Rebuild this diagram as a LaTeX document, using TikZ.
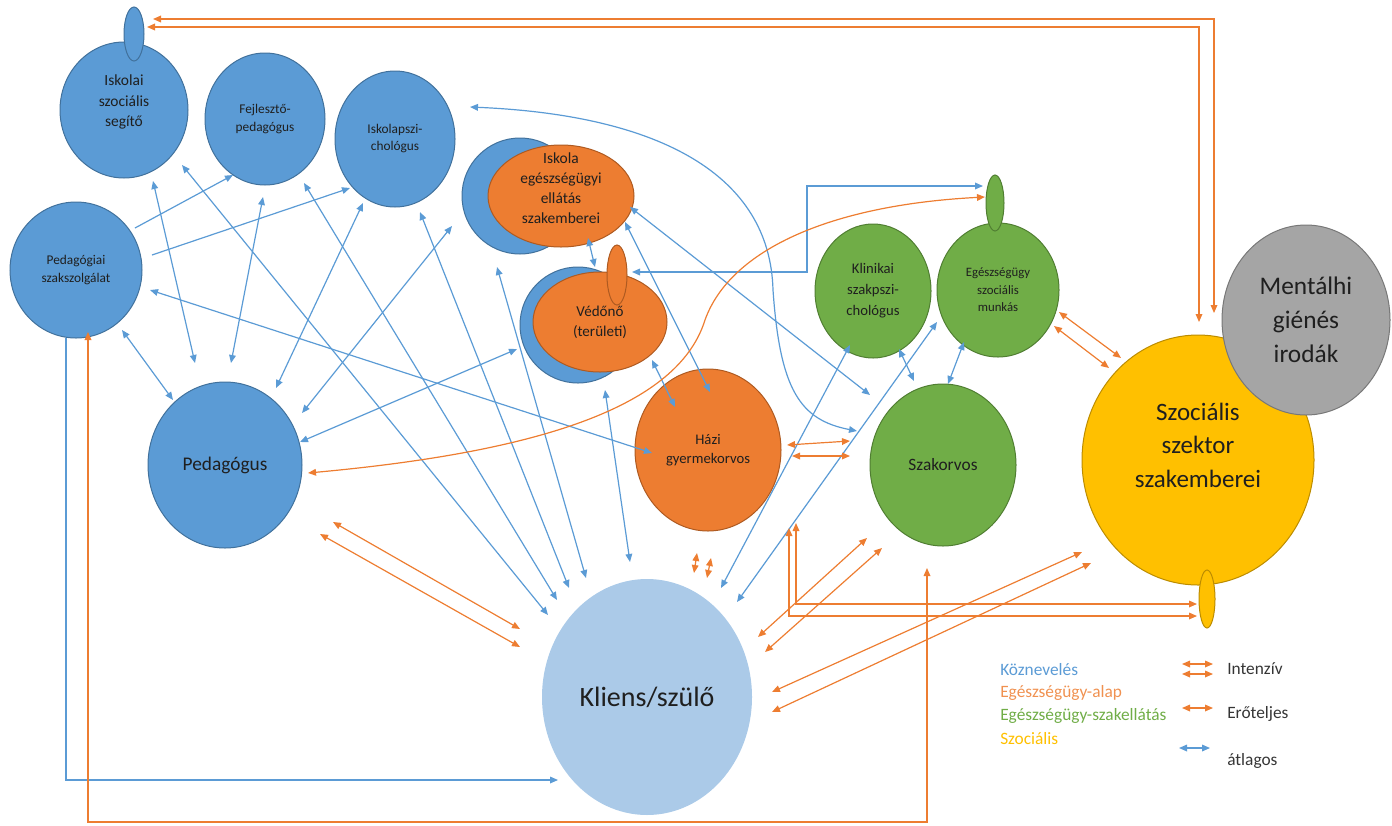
\documentclass[tikz,border=0pt]{standalone}
\usepackage{fontspec}
\setmainfont{Carlito}
\usetikzlibrary{arrows.meta,shapes.geometric,calc}
\definecolor{cBlue}{HTML}{5B9BD5}
\definecolor{cBlueD}{HTML}{41719C}
\definecolor{cOr}{HTML}{ED7D31}
\definecolor{cOrD}{HTML}{AE5A21}
\definecolor{cGr}{HTML}{70AD47}
\definecolor{cGrD}{HTML}{507E32}
\definecolor{cYe}{HTML}{FFC000}
\definecolor{cYeD}{HTML}{BC8C00}
\definecolor{cGy}{HTML}{A5A5A5}
\definecolor{cGyD}{HTML}{787878}
\definecolor{cLb}{HTML}{ABCAE8}
\definecolor{cTxt}{HTML}{1F1F1F}
\begin{document}
\begin{tikzpicture}[x=0.75pt,y=-0.75pt,
  >={Triangle[length=6pt,width=5pt]},
  shp/.style={ellipse, inner sep=0pt, line width=0.75pt, text=cTxt, align=center},
  bluen/.style={shp, fill=cBlue, draw=cBlueD},
  orn/.style={shp, fill=cOr, draw=cOrD},
  grn/.style={shp, fill=cGr, draw=cGrD},
  yen/.style={shp, fill=cYe, draw=cYeD},
  gyn/.style={shp, fill=cGy, draw=cGyD},
  bl/.style={draw=cBlue, line width=0.9pt},
  orl/.style={draw=cOr, line width=0.9pt},
  lgl/.style={anchor=west, inner sep=0pt, font=\fontsize{13}{15}\selectfont},
]
\useasboundingbox (0,0) rectangle (1392,825);

% ---------- nodes ----------
\node[bluen, minimum width=96pt, minimum height=102pt,
  label={[yshift=6pt,font=\fontsize{11.6}{15.4}\selectfont,text=cTxt,align=center]center:Iskolai\\szociális\\segítő}] (iss) at (124,110) {};
\node[bluen, minimum width=15pt, minimum height=40.5pt] (issTab) at (134,34) {};
\node[bluen, minimum width=90pt, minimum height=99pt, font=\fontsize{10}{13.5}\selectfont] (fejl) at (265,119) {Fejlesztő-\\pedagógus};
\node[bluen, minimum width=90pt, minimum height=102pt, font=\fontsize{10}{12.75}\selectfont] (ipsz) at (395,139) {Iskolapszi-\\chológus};
\node[bluen, minimum width=99pt, minimum height=102pt, font=\fontsize{10}{13.5}\selectfont] (pszk) at (76,270) {Pedagógiai\\szakszolgálat};
\node[bluen, minimum width=115.5pt, minimum height=124.5pt, font=\fontsize{14.5}{17}\selectfont] (ped) at (225,465) {Pedagógus};
\node[bluen, minimum width=87pt, minimum height=87pt] (ieB) at (520,196) {};
\node[orn, minimum width=109.5pt, minimum height=76.5pt,
  label={[yshift=6pt,font=\fontsize{11.6}{15}\selectfont,text=cTxt,align=center]center:Iskola\\egészségügyi\\ellátás\\szakemberei}] (ie) at (561,196) {};
\node[bluen, minimum width=87pt, minimum height=87pt] (vedB) at (578,325) {};
\node[orn, minimum width=100.5pt, minimum height=75pt, font=\fontsize{11.3}{15}\selectfont] (ved) at (600,322) {Védőnő\\(területi)};
\node[orn, minimum width=15pt, minimum height=45pt] (vedTab) at (617,275) {};
\node[orn, minimum width=109.5pt, minimum height=121.5pt, font=\fontsize{11}{14.3}\selectfont] (hazi) at (708,450) {Házi\\gyermekorvos};
\node[grn, minimum width=87pt, minimum height=100.5pt, font=\fontsize{11}{15.75}\selectfont] (klin) at (873,291) {Klinikai\\szakpszi-\\chológus};
\node[grn, minimum width=91.5pt, minimum height=100.5pt, font=\fontsize{9.6}{13}\selectfont] (eusz) at (998,290) {Egészségügy\\szociális\\munkás};
\node[grn, minimum width=13.5pt, minimum height=42pt] (euszTab) at (995,203) {};
\node[grn, minimum width=109.5pt, minimum height=121.5pt, font=\fontsize{13}{16}\selectfont] (szakorv) at (943,465) {Szakorvos};
\node[yen, minimum width=174pt, minimum height=187.5pt,
  label={[yshift=11pt,font=\fontsize{18.75}{25}\selectfont,text=cTxt,align=center]center:Szociális\\szektor\\szakemberei}] (szoc) at (1198,460) {};
\node[yen, minimum width=12pt, minimum height=43.5pt] (szocTab) at (1207,599) {};
\node[gyn, minimum width=126pt, minimum height=142.5pt, font=\fontsize{19}{25.5}\selectfont] (ment) at (1306,320) {Mentálhi\\giénés\\irodák};
\node[shp, fill=cLb, minimum width=157.5pt, minimum height=177pt, font=\fontsize{21}{25}\selectfont] (kliens) at (647,697) {Kliens/szülő};

% ---------- blue connectors ----------
\draw[bl,->] ($(pszk)+(59,-42)$) -- ($(fejl)+(-32,56)$);
\draw[bl,->] ($(pszk)+(76,-15)$) -- ($(ipsz)+(-45,49)$);
\draw[bl,<->] ($(iss)+(29,71)$) -- ($(ped)+(-30,-102)$);
\draw[bl,<->] ($(iss)+(58,55)$) -- ($(kliens)+(-99,-82)$);
\draw[bl,<->] ($(fejl)+(-2,78)$) -- ($(ped)+(6,-102)$);
\draw[bl,<->] ($(fejl)+(39,64)$) -- ($(kliens)+(-90,-97)$);
\draw[bl,<->] ($(ipsz)+(-32,64)$) -- ($(ped)+(51,-77)$);
\draw[bl,<->] ($(ipsz)+(25,73)$) -- ($(kliens)+(-78,-109)$);
\draw[bl,<->] ($(ieB)+(-68,30)$) -- ($(ped)+(77,-52)$);
\draw[bl,<->] ($(ieB)+(-23,71)$) -- ($(kliens)+(-61,-119)$);
\draw[bl,<->] ($(vedB)+(-61,24)$) -- ($(ped)+(75,-23)$);
\draw[bl,<->] ($(pszk)+(46,60)$) -- ($(ped)+(-52,-65)$);
\draw[bl,<->] ($(pszk)+(74,20)$) -- ($(hazi)+(-56,3)$);
\draw[bl,->] ($(pszk)+(-10,68)$) |- ($(kliens)+(-89,83)$);
\draw[bl,<->] ($(ipsz)+(75,-32)$) .. controls (660,115) and (770,175) .. (773,290)
   .. controls (780,390) and (800,420) .. ($(szakorv)+(-86,-34)$);
\draw[bl,<->] ($(ie)+(69,11)$) -- ($(szakorv)+(-73,-70)$);
\draw[bl,<->] ($(ie)+(64,26)$) -- ($(hazi)+(2,-58)$);
\draw[bl,<->] ($(ie)+(27,42)$) -- ($(ved)+(-5,-55)$);
\draw[bl,<->] ($(ved)+(52,38)$) -- ($(hazi)+(-33,-43)$);
\draw[bl,<->] ($(ved)+(5,68)$) -- ($(kliens)+(-17,-135)$);
\draw[bl,<->] ($(vedTab)+(15,-3)$) -- ++(175,0) |- ($(euszTab)+(-12,-17)$);
\draw[bl,<->] ($(klin)+(-23,54)$) -- ($(kliens)+(74,-109)$);
\draw[bl,<->] ($(eusz)+(-61,32)$) -- ($(kliens)+(90,-95)$);
\draw[bl,<->] ($(klin)+(26,58)$) -- ($(szakorv)+(-29,-84)$);
\draw[bl,<->] ($(eusz)+(-34,52)$) -- ($(szakorv)+(5,-81)$);

% ---------- orange connectors ----------
\draw[orl,<->] ($(eusz)+(61,22)$) -- ($(szoc)+(-77,-102)$);
\draw[orl,<->] ($(eusz)+(56,36)$) -- ($(szoc)+(-89,-92)$);
\draw[orl,<->] ($(hazi)+(79,-5)$) -- ($(szakorv)+(-93,-24)$);
\draw[orl,<->] ($(hazi)+(84,6)$) -- ($(szakorv)+(-93,-9)$);
\draw[orl,<->] ($(ped)+(108,57)$) -- ($(kliens)+(-127,-68)$);
\draw[orl,<->] ($(ped)+(95,69)$) -- ($(kliens)+(-127,-50)$);
\draw[orl,<->] ($(hazi)+(-11,103)$) -- ($(kliens)+(47,-124)$);
\draw[orl,<->] ($(hazi)+(3,108)$) -- ($(kliens)+(60,-119)$);
\draw[orl,<->] ($(szakorv)+(-76,73)$) -- ($(kliens)+(111,-60)$);
\draw[orl,<->] ($(szakorv)+(-61,83)$) -- ($(kliens)+(118,-45)$);
\draw[orl,<->] ($(szoc)+(-116,92)$) -- ($(kliens)+(125,-5)$);
\draw[orl,<->] ($(szoc)+(-107,103)$) -- ($(kliens)+(125,15)$);
\draw[orl,<->] ($(hazi)+(81,78)$) |- ($(szocTab)+(-10,17)$);
\draw[orl,<->] ($(hazi)+(88,73)$) |- ($(szocTab)+(-10,5)$);
\draw[orl,<->] ($(szoc)+(16,-147)$) |- ($(issTab)+(19,-15)$);
\draw[orl,<->] ($(szoc)+(1,-138)$) |- ($(issTab)+(13,-7)$);
\draw[orl,<->] ($(szakorv)+(-16,103)$) -- ++(0,254) -| ($(pszk)+(12,62)$);
\draw[orl,<->] ($(euszTab)+(-10,-6)$) .. controls (830,205) and (730,250) .. (705,320)
   .. controls (680,400) and (560,450) .. ($(ped)+(83,8)$);

% ---------- legend ----------
\node[lgl, text=cBlue] (lgK) at (1000,670) {Köznevelés};
\node[lgl, text=cOr!85!white] (lgA) at (1000,693) {Egészségügy-alap};
\node[lgl, text=cGr] (lgS) at (1000,716) {Egészségügy-szakellátás};
\node[lgl, text=cYe] (lgZ) at (1000,739) {Szociális};
\node[lgl, text=cTxt!90!white] (lgI) at (1227,669) {Intenzív};
\node[lgl, text=cTxt!90!white] (lgE) at (1227,714) {Erőteljes};
\node[lgl, text=cTxt!90!white] (lgT) at (1227,761) {átlagos};
\draw[orl,<->] ($(lgI.west)+(-45,-5)$) -- ++(31,0);
\draw[orl,<->] ($(lgI.west)+(-45,5)$) -- ++(31,0);
\draw[orl,<->] ($(lgE.west)+(-45,-6)$) -- ++(31,0);
\draw[bl,<->] ($(lgT.west)+(-48,-13)$) -- ++(31,0);
\end{tikzpicture}
\end{document}
